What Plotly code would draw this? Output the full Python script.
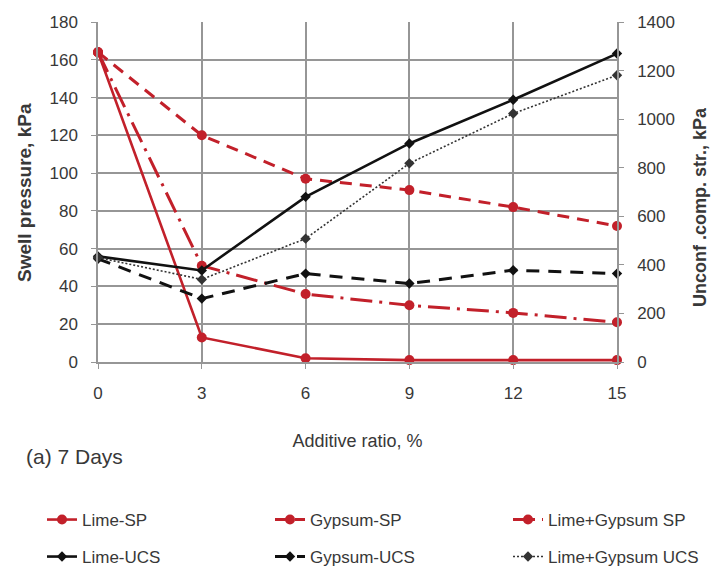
import plotly.graph_objects as go

# Additive ratio (%) on the x axis
additive = [0, 3, 6, 9, 12, 15]

# Swell pressure, kPa (left axis)
lime_sp = [164, 13, 2, 1, 1, 1]
gypsum_sp = [164, 120, 97, 91, 82, 72]
lime_gypsum_sp = [164, 51, 36, 30, 26, 21]

# Unconfined compressive strength, kPa (right axis)
lime_ucs = [435, 377, 680, 900, 1080, 1270]
gypsum_ucs = [425, 261, 364, 323, 378, 364]
lime_gypsum_ucs = [430, 340, 508, 818, 1023, 1181]

x_ticks = [0, 3, 6, 9, 12, 15]
left_ticks = list(range(0, 181, 20))
right_ticks = list(range(0, 1401, 200))

RED = "#C2202A"
BLACK = "#111111"
GRID = "#969696"
TEXT = "#383838"
FONT = "Liberation Sans, Arial, sans-serif"

W, H = 713, 573
ML, MR, MT, MB = 98, 96, 22, 211
PW, PH = W - ML - MR, H - MT - MB


def px_x(px):
    return (px - ML) / PW


def px_y(py):
    return (H - MB - py) / PH


series = [
    # name, y, axis, color, width, dash, symbol, size, legend, legend position (px)
    ("Lime-SP", lime_sp, "y", RED, 2.6, "solid", "circle", 10, "legend", (42, 520)),
    ("Gypsum-SP", gypsum_sp, "y", RED, 3, "12px,8px", "circle", 10, "legend2", (270, 520)),
    ("Lime+Gypsum SP", lime_gypsum_sp, "y", RED, 3, "22px,7px,3px,7px", "circle", 10, "legend3", (508, 520)),
    ("Lime-UCS", lime_ucs, "y2", BLACK, 2.6, "solid", "diamond", 8, "legend4", (42, 557)),
    ("Gypsum-UCS", gypsum_ucs, "y2", BLACK, 3, "13px,9px", "diamond", 8, "legend5", (270, 557)),
    ("Lime+Gypsum UCS", lime_gypsum_ucs, "y2", "#333333", 1.6, "2px,2px", "diamond", 8, "legend6", (508, 557)),
]

fig = go.Figure()
legend_layouts = {}
for name, ys, axis, color, width, dash, symbol, size, leg, (lx, ly) in series:
    fig.add_trace(go.Scatter(
        x=additive, y=ys, name=name, yaxis=axis, mode="lines+markers",
        line=dict(color=color, width=width, dash=dash),
        marker=dict(color=color, symbol=symbol, size=size),
        cliponaxis=False, legend=leg,
    ))
    legend_layouts[leg] = dict(
        xref="container", yref="container",
        x=lx / W, y=1 - ly / H, xanchor="left", yanchor="middle",
        font=dict(family=FONT, size=17, color=TEXT),
        bgcolor="rgba(0,0,0,0)", borderwidth=0,
    )

fig.update_layout(
    width=W, height=H,
    margin=dict(l=ML, r=MR, t=MT, b=MB, autoexpand=False),
    paper_bgcolor="white", plot_bgcolor="white",
    font=dict(family=FONT, color=TEXT),
    showlegend=True,
    **legend_layouts,
    xaxis=dict(
        range=[0, 15], tickvals=x_ticks, ticktext=[str(v) for v in x_ticks],
        showgrid=True, gridcolor=GRID, gridwidth=1.5,
        showline=True, linecolor=GRID, linewidth=1.5,
        ticks="outside", ticklen=5, tickcolor=GRID, ticklabelstandoff=10,
        tickfont=dict(family=FONT, size=17, color=TEXT), tickangle=0,
        zeroline=False, automargin=False,
        title=dict(text="Additive ratio, %", standoff=32,
                   font=dict(family=FONT, size=18, color=TEXT)),
    ),
    yaxis=dict(
        range=[0, 180], tickvals=left_ticks,
        showgrid=True, gridcolor=GRID, gridwidth=1.5,
        showline=True, linecolor=GRID, linewidth=1.5,
        ticks="outside", ticklen=5, tickcolor=GRID, ticklabelstandoff=10,
        tickfont=dict(family=FONT, size=17, color=TEXT),
        zeroline=False, automargin=False,
    ),
    yaxis2=dict(
        range=[0, 1400], tickvals=right_ticks, overlaying="y", side="right",
        showgrid=False, showline=True, linecolor=GRID, linewidth=1.5,
        ticks="outside", ticklen=5, tickcolor=GRID, ticklabelstandoff=10,
        tickfont=dict(family=FONT, size=17, color=TEXT),
        zeroline=False, automargin=False,
    ),
    annotations=[
        dict(text="<b>Swell pressure, kPa</b>", xref="paper", yref="paper",
             x=px_x(24), y=px_y(193), xanchor="center", yanchor="middle", textangle=-90,
             showarrow=False, font=dict(family=FONT, size=19, color=TEXT)),
        dict(text="<b>Unconf .comp. str., kPa</b>", xref="paper", yref="paper",
             x=px_x(700), y=px_y(207), xanchor="center", yanchor="middle", textangle=-90,
             showarrow=False, font=dict(family=FONT, size=18, color=TEXT)),
        dict(text="(a) 7 Days", xref="paper", yref="paper",
             x=px_x(24), y=px_y(457), xanchor="left", yanchor="middle",
             showarrow=False, font=dict(family=FONT, size=21, color=TEXT)),
    ],
)

fig.write_html("out.html")
